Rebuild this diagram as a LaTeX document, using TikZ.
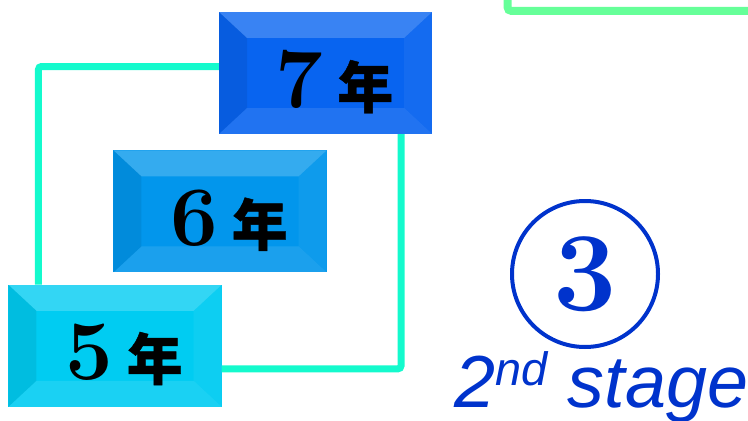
\documentclass[tikz,border=0pt]{standalone}
\usepackage{fontspec}
\setsansfont{Liberation Sans}
\newfontfamily\cjk[FakeBold=0.8]{Noto Sans CJK SC}
\usetikzlibrary{positioning}

\definecolor{boxseven}{RGB}{8,100,240}
\definecolor{boxsix}{RGB}{2,150,236}
\definecolor{boxfive}{RGB}{0,204,242}
\definecolor{linkteal}{RGB}{20,250,205}
\definecolor{linkgreen}{RGB}{102,255,153}
\definecolor{stageblue}{RGB}{0,51,204}

\tikzset{
	yeartext/.style={font=\bfseries\fontsize{85}{85}\selectfont, xshift=9bp, yshift=-9bp, inner sep=0pt},
	yearbox/.style={rectangle, minimum width=213bp, minimum height=122bp, inner sep=0pt,
		label={[yeartext]center:{#1\hspace{14bp}{\cjk\fontsize{56}{56}\selectfont 年}}},
		path picture={
			\path (path picture bounding box.north west) coordinate (a_1)
			      (path picture bounding box.north east) coordinate (a_2)
			      (path picture bounding box.south east) coordinate (a_3)
			      (path picture bounding box.south west) coordinate (a_4);
			\path ([shift={(28bp,-26bp)}]a_1) coordinate (b_1)
			      ([shift={(-28bp,-26bp)}]a_2) coordinate (b_2)
			      ([shift={(-28bp,26bp)}]a_3) coordinate (b_3)
			      ([shift={(28bp,26bp)}]a_4) coordinate (b_4);
			\fill[white, opacity=.20] (a_1) -- (a_2) -- (b_2) -- (b_1) -- cycle;
			\fill[black, opacity=.07] (a_1) -- (b_1) -- (b_4) -- (a_4) -- cycle;
			\fill[white, opacity=.05] (a_2) -- (a_3) -- (b_3) -- (b_2) -- cycle;
			\fill[white, opacity=.10] (a_4) -- (b_4) -- (b_3) -- (a_3) -- cycle;
		}},
	tline/.style={draw=linkteal, line width=7bp, rounded corners=3bp},
	gline/.style={draw=linkgreen, line width=8bp, rounded corners=4bp}
}

\begin{document}
\begin{tikzpicture}[x=1bp, y=1bp]

		\useasboundingbox (0,0) rectangle (748,420);

		\node(n_7) [yearbox=7, fill=boxseven] at (325.5,347) {};
		\node(n_6) [yearbox=6, fill=boxsix, below=16bp of n_7, xshift=-105.5bp] {};
		\node(n_5) [yearbox=5, fill=boxfive, below=12bp of n_6, xshift=-105bp] {};

		\draw[tline] ([yshift=6.5bp]n_7.west) -| ([xshift=-76.5bp]n_5.north);
		\draw[tline] ([xshift=75.5bp]n_7.south) |- ([yshift=-23bp]n_5.east);

		\draw[gline] (507.5,430) |- (760,409);

		\node(stage_3) [circle, draw=stageblue, line width=4bp, minimum size=146bp, inner sep=0pt,
			text=stageblue, font=\bfseries\fontsize{113}{113}\selectfont] at (585,146) {3};
		\node(cap) [anchor=base west, inner sep=0pt, text=stageblue,
			font=\sffamily\itshape\fontsize{74}{74}\selectfont] at (454,13)
			{2\raisebox{22bp}{\fontsize{47}{47}\selectfont nd} stage};

	\end{tikzpicture}
\end{document}
